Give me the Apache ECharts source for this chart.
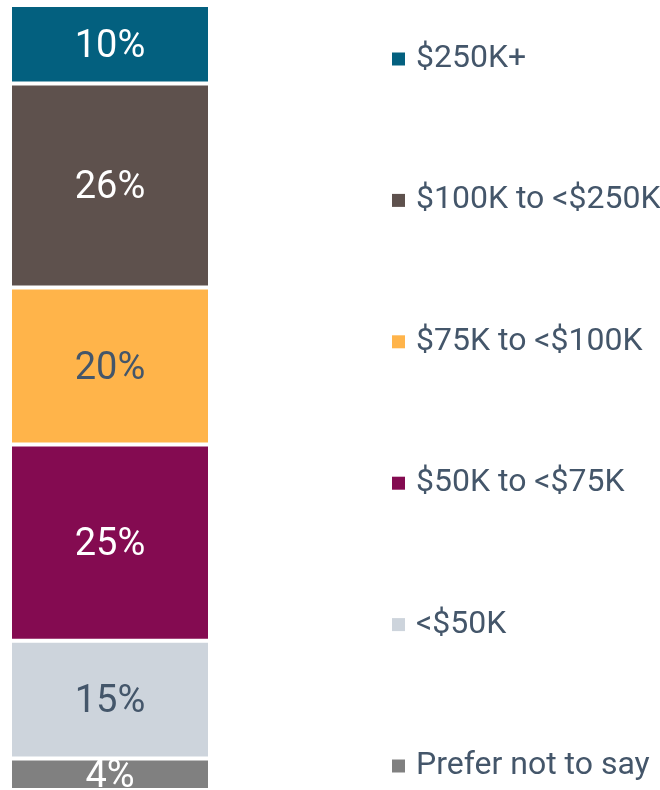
<!DOCTYPE html>
<html>
<head>
<meta charset="utf-8">
<script src="https://cdn.jsdelivr.net/npm/echarts@6/dist/echarts.min.js"></script>
<style>
  html, body { margin: 0; padding: 0; background: #fff; }
  #chart { width: 660px; height: 790px; }
</style>
</head>
<body>
<div id="chart"></div>
<script>
// bottom of the stack first
var groups = ['Prefer not to say', '<$50K', '$50K to <$75K', '$75K to <$100K', '$100K to <$250K', '$250K+'];
var shares = [4, 15, 25, 20, 26, 10];
var colors = ['#808080', '#cdd4dc', '#840b51', '#ffb44a', '#5e514d', '#03607f'];
var labelColors = ['#fff', '#44566a', '#fff', '#44566a', '#fff', '#fff'];

var chart = echarts.init(document.getElementById('chart'));

var series = groups.map(function (name, i) {
    return {
        name: name,
        type: 'bar',
        stack: 'total',
        barWidth: '100%',
        data: [shares[i]],
        itemStyle: { color: colors[i], borderColor: '#fff', borderWidth: 2 },
        label: {
            show: true,
            position: 'inside',
            offset: [0, 3],
            formatter: '{c}%',
            fontFamily: 'Roboto',
            fontSize: 38,
            color: labelColors[i]
        }
    };
});

chart.setOption({
    animation: false,
    grid: { left: 10, top: 5, width: 200, height: 788.5 },
    xAxis: { type: 'category', data: [''], show: false },
    yAxis: { type: 'value', min: 0, max: 100, show: false },
    legend: {
        orient: 'vertical',
        left: 392,
        top: 43,
        padding: 0,
        data: groups.slice().reverse(),
        icon: 'rect',
        itemWidth: 13,
        itemHeight: 13,
        itemGap: 109.4,
        itemStyle: { borderWidth: 0 },
        textStyle: {
            fontFamily: 'Roboto',
            fontSize: 32,
            lineHeight: 32,
            color: '#44566a',
            padding: [0, 0, 0, 6]
        }
    },
    series: series
});
</script>
</body>
</html>
